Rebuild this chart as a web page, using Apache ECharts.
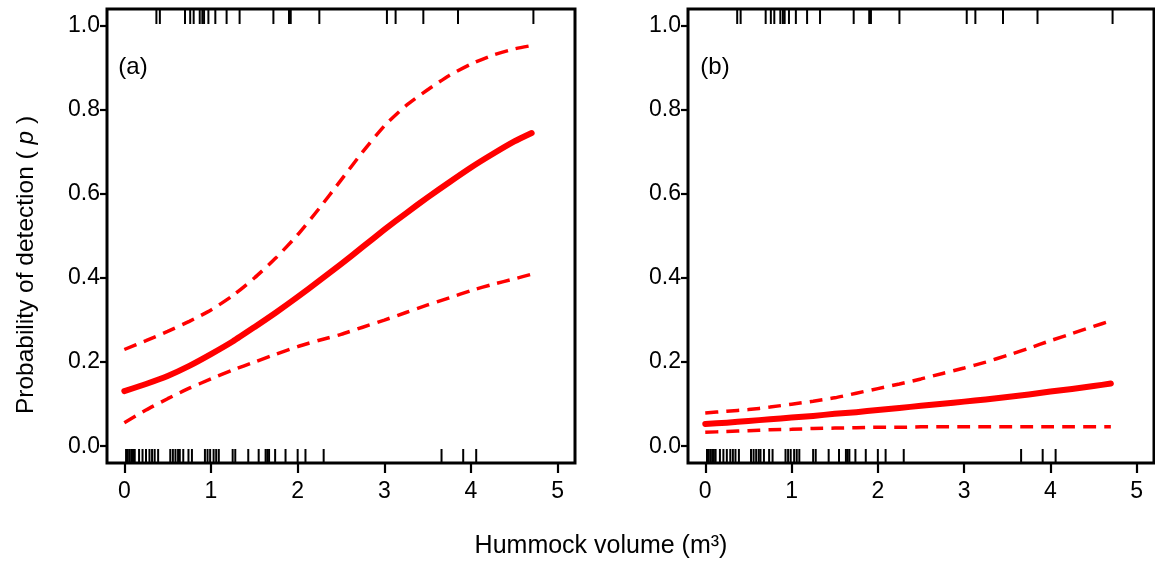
<!DOCTYPE html>
<html>
<head>
<meta charset="utf-8">
<script src="https://cdn.jsdelivr.net/npm/echarts@6/dist/echarts.min.js"></script>
<style>
html,body{margin:0;padding:0;background:#fff;}
#chart{width:1155px;height:562px;}
</style>
</head>
<body>
<div id="chart"></div>
<script>
// ---- data ----
const curveX = [0, 0.25, 0.5, 0.75, 1.0, 1.25, 1.5, 1.75, 2.0, 2.25, 2.5, 2.75,
                3.0, 3.25, 3.5, 3.75, 4.0, 4.25, 4.5, 4.7];

const aFit   = [0.131, 0.148, 0.167, 0.191, 0.219, 0.249, 0.283, 0.318, 0.355, 0.394, 0.433, 0.474,
                0.515, 0.554, 0.592, 0.628, 0.663, 0.695, 0.725, 0.745];
const aUpper = [0.230, 0.251, 0.273, 0.297, 0.324, 0.358, 0.400, 0.448, 0.503, 0.566, 0.633, 0.700,
                0.762, 0.810, 0.848, 0.882, 0.909, 0.930, 0.945, 0.953];
const aLower = [0.056, 0.086, 0.113, 0.138, 0.160, 0.181, 0.200, 0.219, 0.237, 0.252, 0.266, 0.283,
                0.300, 0.318, 0.336, 0.353, 0.370, 0.385, 0.398, 0.409];

const bFit   = [0.053, 0.056, 0.060, 0.064, 0.068, 0.072, 0.077, 0.081, 0.086, 0.091, 0.096, 0.101,
                0.106, 0.111, 0.117, 0.123, 0.130, 0.136, 0.143, 0.149];
const bUpper = [0.079, 0.083, 0.087, 0.093, 0.100, 0.107, 0.115, 0.126, 0.137, 0.148, 0.160, 0.173,
                0.186, 0.200, 0.216, 0.233, 0.251, 0.268, 0.285, 0.298];
const bLower = [0.033, 0.035, 0.037, 0.039, 0.040, 0.042, 0.043, 0.044, 0.045, 0.045, 0.046, 0.046,
                0.046, 0.046, 0.046, 0.046, 0.046, 0.046, 0.046, 0.046];

// rug: hummock volumes where detected (top) and not detected (bottom)
const rugTop = [0.37, 0.41, 0.70, 0.76, 0.80, 0.87, 0.90, 0.92, 0.97, 1.05, 1.18, 1.33,
                1.72, 1.90, 1.92, 2.25, 3.03, 3.13, 3.45, 3.85, 4.72];
const rugBottom = [0.02, 0.04, 0.06, 0.08, 0.10, 0.12, 0.17, 0.21, 0.25, 0.29, 0.32, 0.35, 0.39,
                   0.53, 0.56, 0.59, 0.62, 0.64, 0.68, 0.74, 0.78,
                   0.93, 0.96, 0.99, 1.03, 1.06, 1.09,
                   1.25, 1.28,
                   1.43, 1.55, 1.63, 1.65, 1.67, 1.74, 1.86, 2.00, 2.09, 2.30,
                   3.66, 3.91, 4.06];

const xTicks = [0, 1, 2, 3, 4, 5];
const yTicks = [0, 0.2, 0.4, 0.6, 0.8, 1.0];
const panelLabels = ['(a)', '(b)'];
const xTitle = 'Hummock volume (m³)';

// ---- chart ----
const FONT = 'Liberation Sans, Arial, Helvetica, sans-serif';
const X_MIN = -0.2, X_MAX = 5.2, Y_MIN = -0.04, Y_MAX = 1.04;
const RED = '#ff0000';

function pairs(xs, ys) { return xs.map((x, i) => [x, ys[i]]); }

function xAxisFor(gi) {
  return {
    type: 'value', gridIndex: gi, min: X_MIN, max: X_MAX,
    axisLine: { show: false, onZero: false },
    axisTick: { show: true, customValues: xTicks, length: 10, inside: false,
                lineStyle: { color: '#000', width: 2.2 } },
    axisLabel: { show: true, customValues: xTicks, margin: 17, color: '#000',
                 fontFamily: FONT, fontSize: 23 },
    splitLine: { show: false }
  };
}
function yAxisFor(gi) {
  return {
    type: 'value', gridIndex: gi, min: Y_MIN, max: Y_MAX,
    axisLine: { show: false, onZero: false },
    axisTick: { show: true, customValues: yTicks, length: 7, inside: false,
                lineStyle: { color: '#000', width: 2.2 } },
    axisLabel: { show: true, customValues: yTicks, margin: 7, color: '#000',
                 fontFamily: FONT, fontSize: 23,
                 formatter: v => Number(v).toFixed(1) },
    splitLine: { show: false }
  };
}

function rugSeries(gi, values, atTop) {
  return {
    type: 'custom', xAxisIndex: gi, yAxisIndex: gi, silent: true,
    data: values.map(v => [v]),
    encode: { x: 0 },
    renderItem: function (params, api) {
      const x = api.value(0);
      const p = api.coord([x, atTop ? Y_MAX : Y_MIN]);
      const len = atTop ? 15 : -14;
      return {
        type: 'line',
        shape: { x1: p[0], y1: p[1], x2: p[0], y2: p[1] + len },
        style: { stroke: '#000', lineWidth: 2 }
      };
    }
  };
}

function curveSeries(gi, ys, dashed) {
  return {
    type: 'line', xAxisIndex: gi, yAxisIndex: gi, silent: true,
    data: pairs(curveX, ys), symbol: 'none', smooth: 0.2,
    lineStyle: dashed
      ? { color: RED, width: 3.5, type: [13, 8], cap: 'butt' }
      : { color: RED, width: 6, cap: 'round', join: 'round' },
    z: dashed ? 3 : 4
  };
}

const chart = echarts.init(document.getElementById('chart'), null, { renderer: 'canvas' });
chart.setOption({
  animation: false,
  backgroundColor: '#fff',
  grid: [
    { left: 107, top: 9, width: 468, height: 454, show: true, borderColor: '#000', borderWidth: 3, backgroundColor: 'transparent' },
    { left: 688, top: 9, width: 466, height: 454, show: true, borderColor: '#000', borderWidth: 3, backgroundColor: 'transparent' }
  ],
  xAxis: [xAxisFor(0), xAxisFor(1)],
  yAxis: [yAxisFor(0), yAxisFor(1)],
  series: [
    rugSeries(0, rugTop, true), rugSeries(0, rugBottom, false),
    rugSeries(1, rugTop, true), rugSeries(1, rugBottom, false),
    curveSeries(0, aUpper, true), curveSeries(0, aLower, true), curveSeries(0, aFit, false),
    curveSeries(1, bUpper, true), curveSeries(1, bLower, true), curveSeries(1, bFit, false)
  ],
  graphic: [
    { type: 'text', x: 133, y: 67, style: { text: panelLabels[0], font: '24px ' + FONT, fill: '#000', textAlign: 'center', textVerticalAlign: 'middle' } },
    { type: 'text', x: 715, y: 67, style: { text: panelLabels[1], font: '24px ' + FONT, fill: '#000', textAlign: 'center', textVerticalAlign: 'middle' } },
    { type: 'text', x: 601, y: 546, style: { text: xTitle, font: '25px ' + FONT, fill: '#000', textAlign: 'center', textVerticalAlign: 'middle' } },
    { type: 'text', x: 26, y: 265, rotation: Math.PI / 2,
      style: { text: 'Probability of detection ( {i|p} )', fontSize: 24.5, fontFamily: FONT, fill: '#000',
               textAlign: 'center', textVerticalAlign: 'middle',
               rich: { i: { fontStyle: 'italic', fontSize: 24.5, fontFamily: FONT, fill: '#000' } } } }
  ]
});
</script>
</body>
</html>
